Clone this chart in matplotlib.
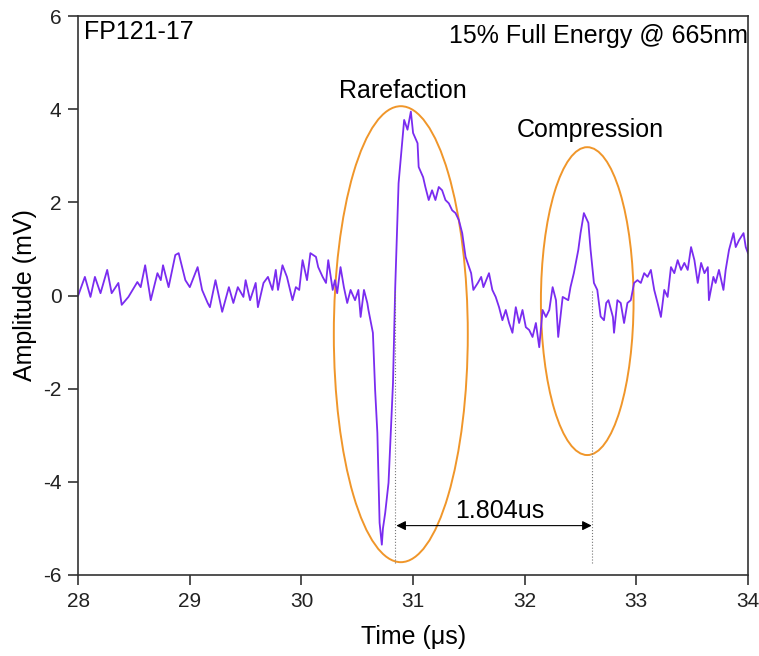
"""Photoacoustic trace with rarefaction / compression annotations."""

import matplotlib

matplotlib.use("Agg")
import matplotlib.pyplot as plt
from matplotlib.patches import Ellipse

plt.rcParams["font.family"] = ["Liberation Sans", "DejaVu Sans"]
plt.rcParams["axes.unicode_minus"] = False

# trace (time in us, amplitude in mV)
time_us = [
    28.00, 28.06, 28.11, 28.15, 28.20, 28.26, 28.30, 28.36, 28.39, 28.45,
    28.53, 28.56, 28.60, 28.65, 28.71, 28.74, 28.76, 28.81, 28.87, 28.90,
    28.96, 29.00, 29.07, 29.11, 29.16, 29.18, 29.23, 29.29, 29.35, 29.39,
    29.43, 29.48, 29.50, 29.54, 29.59, 29.61, 29.66, 29.70, 29.74, 29.77,
    29.79, 29.83, 29.87, 29.92, 29.95, 29.98, 30.01, 30.05, 30.08, 30.13,
    30.15, 30.19, 30.22, 30.24, 30.28, 30.30, 30.32, 30.35, 30.38, 30.41,
    30.44, 30.48, 30.51, 30.53, 30.56, 30.59, 30.60, 30.64, 30.66, 30.68,
    30.70, 30.72, 30.73, 30.75, 30.78, 30.82, 30.84, 30.87, 30.91, 30.92,
    30.95, 30.98, 31.00, 31.04, 31.05, 31.09, 31.11, 31.14, 31.17, 31.20,
    31.23, 31.26, 31.29, 31.32, 31.35, 31.38, 31.41, 31.44, 31.47, 31.52,
    31.54, 31.58, 31.61, 31.63, 31.68, 31.71, 31.74, 31.77, 31.80, 31.83,
    31.86, 31.89, 31.92, 31.95, 31.98, 32.01, 32.04, 32.07, 32.10, 32.13,
    32.16, 32.19, 32.22, 32.25, 32.28, 32.30, 32.34, 32.39, 32.41, 32.44,
    32.48, 32.50, 32.53, 32.57, 32.59, 32.62, 32.65, 32.68, 32.71, 32.73,
    32.75, 32.79, 32.80, 32.83, 32.86, 32.89, 32.92, 32.95, 32.98, 33.01,
    33.04, 33.07, 33.10, 33.13, 33.16, 33.19, 33.22, 33.25, 33.28, 33.31,
    33.34, 33.37, 33.40, 33.43, 33.46, 33.49, 33.52, 33.55, 33.58, 33.61,
    33.64, 33.65, 33.69, 33.71, 33.74, 33.78, 33.80, 33.83, 33.87, 33.89,
    33.92, 33.96, 33.98, 34.00,
]
amplitude_mv = [
    0.00, 0.40, -0.03, 0.40, 0.05, 0.55, 0.05, 0.27, -0.20, -0.03,
    0.29, 0.18, 0.65, -0.10, 0.48, 0.33, 0.65, 0.18, 0.87, 0.91,
    0.33, 0.18, 0.61, 0.12, -0.16, -0.25, 0.33, -0.35, 0.18, -0.16,
    0.18, -0.03, 0.33, -0.10, 0.27, -0.25, 0.27, 0.40, 0.12, 0.55,
    0.12, 0.65, 0.40, -0.10, 0.18, 0.12, 0.76, 0.33, 0.91, 0.83,
    0.61, 0.40, 0.27, 0.76, 0.12, 0.33, 0.05, 0.61, 0.18, -0.16,
    0.12, -0.10, 0.12, -0.46, 0.12, -0.16, -0.31, -0.80, -2.03, -2.95,
    -4.88, -5.35, -5.00, -4.67, -4.02, -1.88, 0.18, 2.41, 3.49, 3.77,
    3.56, 3.95, 3.49, 3.27, 2.76, 2.54, 2.33, 2.05, 2.26, 2.05,
    2.33, 2.26, 2.05, 1.98, 1.83, 1.77, 1.62, 1.34, 0.83, 0.48,
    0.12, 0.27, 0.40, 0.18, 0.48, 0.12, -0.03, -0.25, -0.53, -0.31,
    -0.59, -0.80, -0.25, -0.59, -0.31, -0.68, -0.74, -0.89, -0.59, -1.11,
    -0.31, -0.46, -0.31, 0.18, -0.10, -0.89, -0.03, -0.10, 0.18, 0.48,
    0.98, 1.34, 1.77, 1.56, 0.98, 0.27, 0.12, -0.45, -0.53, -0.16,
    -0.10, -0.46, -0.80, -0.10, -0.16, -0.59, -0.16, -0.10, 0.27, 0.33,
    0.27, 0.48, 0.40, 0.55, 0.12, -0.16, -0.46, 0.12, -0.03, 0.61,
    0.48, 0.76, 0.55, 0.70, 0.55, 1.04, 0.76, 0.27, 0.70, 0.48,
    0.61, -0.10, 0.40, 0.27, 0.55, 0.12, 0.55, 0.98, 1.34, 1.04,
    1.19, 1.34, 1.04, 0.91,
]

# annotation geometry in data units
ellipse_centers = [(30.89, -0.83), (32.56, -0.12)]
ellipse_sizes = [(1.20, 9.79), (0.83, 6.61)]
ellipse_labels = ["Rarefaction", "Compression"]
label_positions = [(30.91, 4.39), (32.59, 3.55)]
marker_times = [30.84, 32.60]
delay_label = "1.804us"

TRACE = "#7a2cf0"
ORANGE = "#f0962a"

fig = plt.figure(figsize=(7.59, 6.56), dpi=100)
ax = fig.add_axes([0.103, 0.1235, 0.8825, 0.852])

ax.plot(time_us, amplitude_mv, color=TRACE, lw=1.3)

for (cx, cy), (w, h) in zip(ellipse_centers, ellipse_sizes):
    ax.add_patch(Ellipse((cx, cy), w, h, fill=False, ec=ORANGE, lw=1.4))
for text, (lx, ly) in zip(ellipse_labels, label_positions):
    ax.text(lx, ly, text, ha="center", va="center", fontsize=18)

for t in marker_times:
    ax.plot([t, t], [0.1, -5.75], color="#777777", ls=":", lw=0.8)
ax.annotate("", xy=(marker_times[0] + 0.01, -4.94), xytext=(marker_times[1], -4.94),
            arrowprops=dict(arrowstyle="<|-|>", color="black", lw=0.8,
                            mutation_scale=14, shrinkA=0, shrinkB=0))
ax.text(31.78, -4.62, delay_label, ha="center", va="center", fontsize=18)

ax.text(0.009, 0.993, "FP121-17", transform=ax.transAxes, ha="left", va="top",
        fontsize=18)
ax.text(1.0, 0.985, "15% Full Energy @ 665nm", transform=ax.transAxes,
        ha="right", va="top", fontsize=18)

ax.set_xlim(28, 34)
ax.set_ylim(-6, 6)
ax.set_xticks(range(28, 35))
ax.set_yticks(range(-6, 7, 2))
ax.tick_params(direction="out", length=7, width=1.1, labelsize=15, pad=5,
               top=False, right=False, colors="#222222")
for spine in ax.spines.values():
    spine.set_linewidth(1.2)
    spine.set_color("#333333")
ax.set_xlabel("Time (μs)", fontsize=18, labelpad=10)
ax.set_ylabel("Amplitude (mV)", fontsize=18, labelpad=4)

fig.savefig("out.png", dpi=100)
